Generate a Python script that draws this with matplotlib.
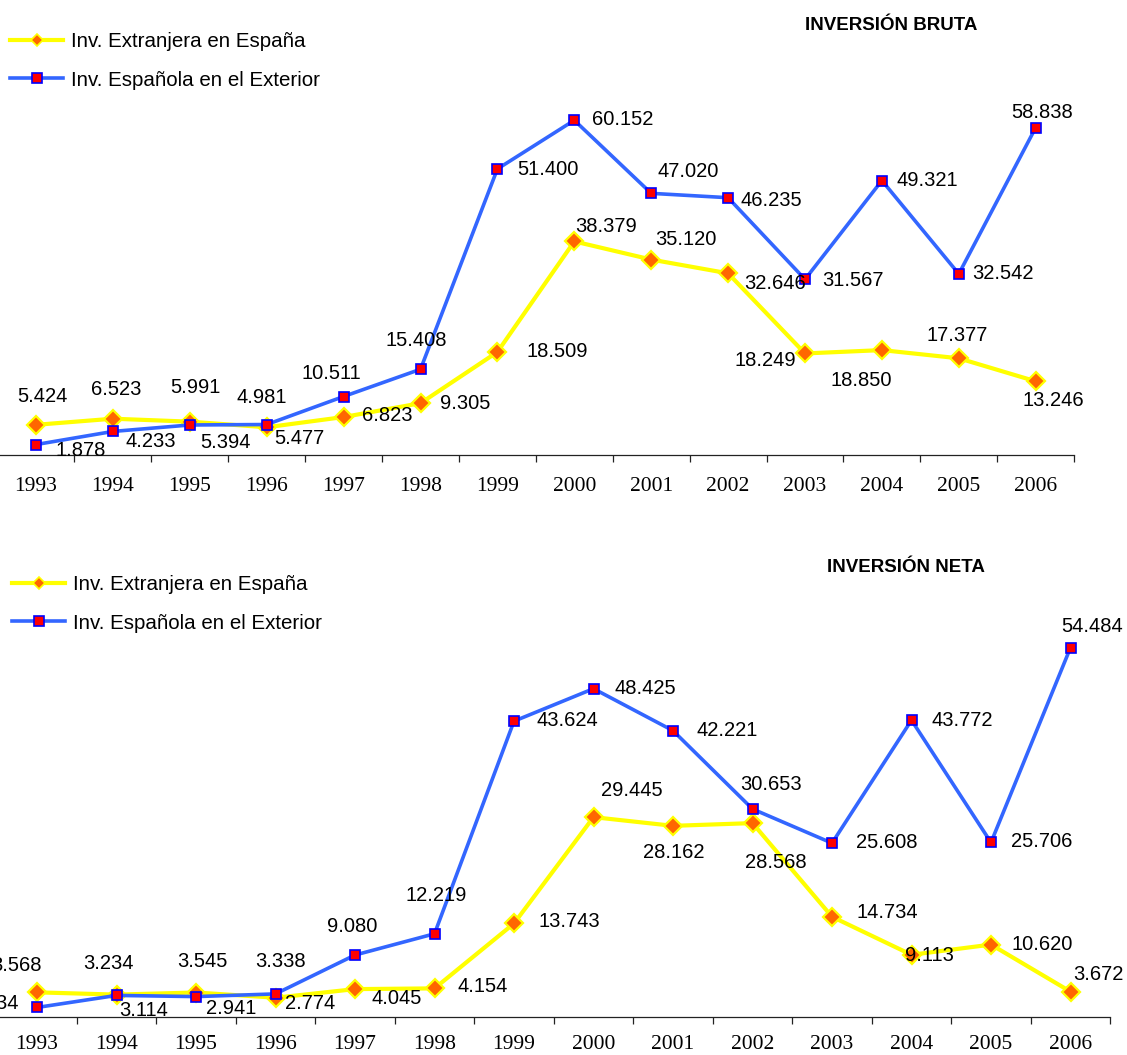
import matplotlib
matplotlib.use("Agg")
import matplotlib.pyplot as plt
from matplotlib.lines import Line2D
import numpy as np

# ---------------- data ----------------
years = ["1993", "1994", "1995", "1996", "1997", "1998", "1999",
         "2000", "2001", "2002", "2003", "2004", "2005", "2006"]

series_names = ["Inv. Extranjera en España", "Inv. Española en el Exterior"]

bruta_extranjera = [5.424, 6.523, 5.991, 4.981, 6.823, 9.305, 18.509,
                    38.379, 35.120, 32.646, 18.249, 18.850, 17.377, 13.246]
bruta_espanola = [1.878, 4.233, 5.394, 5.477, 10.511, 15.408, 51.400,
                  60.152, 47.020, 46.235, 31.567, 49.321, 32.542, 58.838]

neta_extranjera = [3.568, 3.234, 3.545, 2.774, 4.045, 4.154, 13.743,
                   29.445, 28.162, 28.568, 14.734, 9.113, 10.620, 3.672]
neta_espanola = [1.334, 3.114, 2.941, 3.338, 9.080, 12.219, 43.624,
                 48.425, 42.221, 30.653, 25.608, 43.772, 25.706, 54.484]

titles = ["INVERSIÓN BRUTA", "INVERSIÓN NETA"]

# label offsets (pixels, right / down) from each marker
off_bruta_ext = [(6, -28), (3, -29), (6, -34), (-5, -30), (44, -2), (45, 0), (60, 0),
                 (32, -15), (35, -20), (47, 10), (-40, 7), (-21, 30), (-2, -23), (18, 19)]
off_bruta_esp = [(45, 6), (38, 10), (36, 18), (33, 14), (-12, -23), (-4, -29), (51, 1),
                 (48, -1), (37, -22), (43, 3), (48, 1), (45, 0), (44, 0), (6, -15)]
off_neta_ext = [(-21, -27), (-8, -31), (6, -31), (35, 6), (42, 9), (48, -2), (55, -2),
                (38, -27), (1, 27), (23, 39), (55, -4), (18, 1), (51, 0), (28, -17)]
off_neta_esp = [(-43, -4), (27, 15), (35, 12), (5, -32), (-3, -29), (2, -38), (53, -1),
                (52, 0), (54, 0), (19, -24), (55, -1), (51, 0), (51, -1), (22, -21)]

# ---------------- style ----------------
W, H = 1127, 1055
SANS = "Liberation Sans"
SERIF = "Liberation Serif"
YEL_LINE = "#FFFF00"
YEL_FILL = "#FF6600"
BLU_LINE = "#3366FF"
BLU_EDGE = "#0000FF"
RED_FILL = "#FF0000"
FS = 14.5

fig = plt.figure(figsize=(W / 100, H / 100), dpi=100)


def fmt(v):
    return f"{v:.3f}"


def make_axes(left_px, spacing, zero_px, scale, ymax):
    width = spacing * len(years)
    height = scale * ymax
    return fig.add_axes([left_px / W, (H - zero_px) / H, width / W, height / H])


def draw_panel(ax, ext, esp, off_ext, off_esp, ymax, title, title_xy, legend_xy, tick_pad):
    x = np.arange(len(years))
    ax.plot(x, ext, color=YEL_LINE, lw=3.0, marker="D", ms=9,
            mfc=YEL_FILL, mec=YEL_LINE, mew=1.6, clip_on=False, zorder=3)
    ax.plot(x, esp, color=BLU_LINE, lw=2.6, marker="s", ms=6.5,
            mfc=RED_FILL, mec=BLU_EDGE, mew=1.2, clip_on=False, zorder=4)
    for vals, offs in ((ext, off_ext), (esp, off_esp)):
        for i, (v, (dx, dy)) in enumerate(zip(vals, offs)):
            ax.annotate(fmt(v), xy=(i, v), xytext=(dx, -dy), textcoords="offset pixels",
                        ha="center", va="center", fontsize=FS, family=SANS,
                        color="black", zorder=5, annotation_clip=False)
    ax.set_xlim(-0.5, len(years) - 0.5)
    ax.set_ylim(0, ymax)
    for s in ("left", "right", "top"):
        ax.spines[s].set_visible(False)
    ax.spines["bottom"].set_color("#222222")
    ax.spines["bottom"].set_linewidth(0.9)
    ax.set_yticks([])
    ax.set_xticks(x)
    ax.set_xticklabels(years, family=SERIF, fontsize=15.5)
    ax.set_xticks(np.arange(-0.5, len(years)), minor=True)
    ax.tick_params(axis="x", which="major", length=0, pad=tick_pad)
    ax.tick_params(axis="x", which="minor", length=5, width=0.9, color="#222222", direction="out")
    ax.patch.set_alpha(0)

    fig.text(title_xy[0] / W, 1 - title_xy[1] / H, title, ha="center", va="center",
             fontsize=13.5, weight="bold", family=SANS)

    h1 = Line2D([], [], color=YEL_LINE, lw=3.0, marker="D", ms=6.5,
                mfc=YEL_FILL, mec=YEL_LINE, mew=1.2)
    h2 = Line2D([], [], color=BLU_LINE, lw=2.6, marker="s", ms=7,
                mfc=RED_FILL, mec=BLU_EDGE, mew=1.2)
    ax.legend([h1, h2], series_names, loc="upper left",
              bbox_to_anchor=(legend_xy[0] / W, 1 - legend_xy[1] / H),
              bbox_transform=fig.transFigure, frameon=False, borderpad=0,
              borderaxespad=0, handlelength=2.6, handletextpad=0.35,
              labelspacing=0.95, prop={"family": SANS, "size": 14.8})


ax1 = make_axes(-2.45, 76.9, 455, 5.565, 70)
draw_panel(ax1, bruta_extranjera, bruta_espanola, off_bruta_ext, off_bruta_esp,
           70, titles[0], (891, 25), (10, 32), 16)

ax2 = make_axes(-2.75, 79.5, 1016.5, 6.77, 60)
draw_panel(ax2, neta_extranjera, neta_espanola, off_neta_ext, off_neta_esp,
           60, titles[1], (906, 567), (12, 575), 13)

fig.savefig("out.png", dpi=100)
